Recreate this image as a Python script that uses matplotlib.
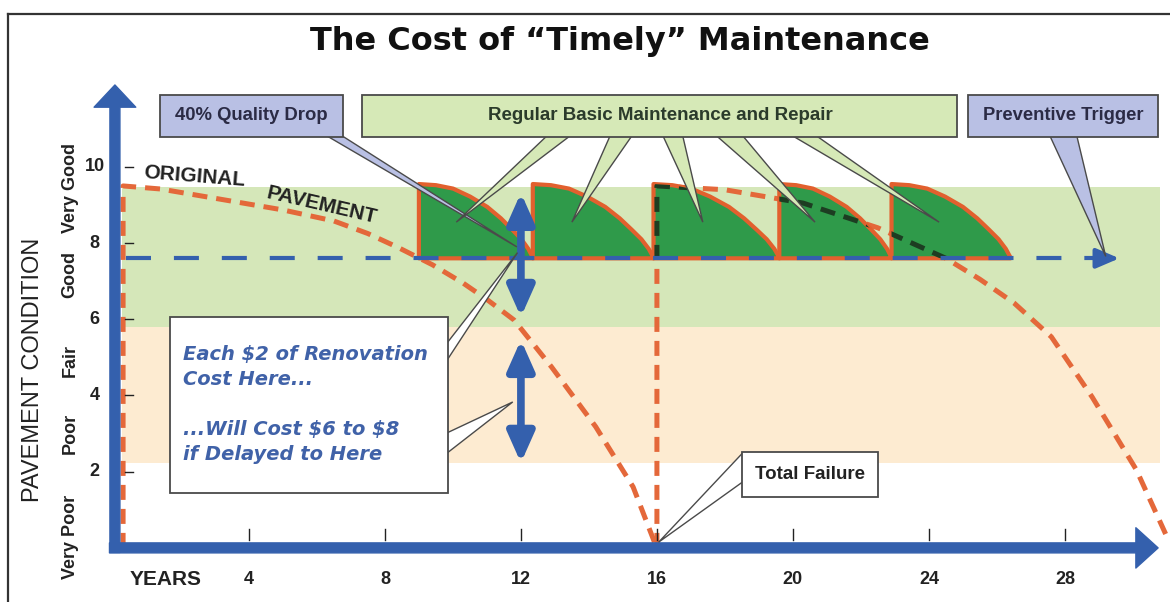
import matplotlib.pyplot as plt
from matplotlib.patches import Rectangle, Polygon
from matplotlib.lines import Line2D

# ---- data ----
tick_values = [2, 4, 6, 8, 10]
condition_labels = ['Very Poor', 'Poor', 'Fair', 'Good', 'Very Good']
condition_label_pos = [0.3, 3.0, 4.93, 7.17, 9.45]
year_ticks = [4, 8, 12, 16, 20, 24, 28]

good_band = (5.8, 9.47)
fair_band = (2.23, 5.8)
trigger_level = 7.6

# original pavement (no maintenance)
original_years = [0.3, 0.3, 1.4, 3.5, 5.0, 6.5, 7.5, 8.4, 9.4, 10.3, 11.0, 11.8, 12.9,
                  14.2, 15.3, 15.95]
original_cond = [0.0, 9.5, 9.42, 9.1, 8.87, 8.58, 8.25, 7.88, 7.43, 6.95, 6.52, 5.98, 4.75,
                 3.18, 1.6, 0.1]

# pavement after reconstruction at year 16
rebuilt_years = [16.0, 16.0, 18.0, 20.3, 22.5, 24.5, 25.5, 26.5, 27.6, 28.8, 30.1, 31.0]
rebuilt_cond = [0.0, 9.5, 9.4, 9.05, 8.4, 7.6, 7.05, 6.43, 5.54, 3.96, 2.05, 0.29]

# maintenance treatments
treat_start = [9.0, 12.35, 15.9, 19.6, 22.9]
treat_end = [12.35, 15.9, 19.6, 22.9, 26.4]
treat_frac = [0, 0.15, 0.3, 0.45, 0.6, 0.72, 0.82, 0.9, 0.96, 1.0]
treat_cond = [9.55, 9.52, 9.43, 9.22, 8.95, 8.65, 8.35, 8.1, 7.85, 7.62]
treat_pointers = [10.1, 13.5, 17.35, 20.65, 24.3]
treat_pointer_base = [(12.76, 13.44), (14.62, 15.26), (16.18, 16.76), (17.76, 18.53), (20.0, 20.7)]

blue = '#3460ad'
orange = '#e4683a'
dark_green = '#2f9a4a'
lavender = '#b9c0e4'
pale_green = '#d6e9b7'
edge = '#4a4a4a'
arial = ['Liberation Sans', 'DejaVu Sans']

fig = plt.figure(figsize=(11.7, 6.02), dpi=100)
ax = fig.add_axes([0, 0, 1, 1])
ax.set_xlim(-3.32, 31.09)
ax.set_ylim(-1.42, 14.38)
ax.axis('off')

# outer frame
fig.add_artist(Line2D([8 / 1170, 1], [1 - 14 / 602] * 2, color='#333333', lw=1.6))
fig.add_artist(Line2D([8 / 1170] * 2, [0, 1 - 14 / 602], color='#333333', lw=1.6))

# condition bands
ax.add_patch(Rectangle((0.26, good_band[0]), 30.54, good_band[1] - good_band[0],
                       color='#d5e7b9', lw=0, zorder=0))
ax.add_patch(Rectangle((0.26, fair_band[0]), 30.54, fair_band[1] - fair_band[0],
                       color='#fdebd1', lw=0, zorder=0))

# deterioration curves
ax.plot(original_years, original_cond, color=orange, lw=3.6, dashes=(3, 1.8), zorder=2)
ax.plot(rebuilt_years, rebuilt_cond, color=orange, lw=3.6, dashes=(3, 1.8), zorder=2)

# maintenance treatments
for s, e in zip(treat_start, treat_end):
    pts = [(s, trigger_level)]
    pts += [(s + f * (e - s), c) for f, c in zip(treat_frac, treat_cond)]
    pts += [(e, trigger_level)]
    shape = Polygon(pts, closed=True, facecolor=dark_green, edgecolor='#e2602e',
                    lw=3, joinstyle='round', zorder=3)
    ax.add_patch(shape)
    dark, = ax.plot(rebuilt_years, rebuilt_cond, color='#1d3d22', lw=3.6,
                    dashes=(3, 1.8), zorder=4)
    dark.set_clip_path(shape)

# preventive trigger line
ax.plot([0.4, 29.0], [trigger_level, trigger_level], color=blue, lw=3, dashes=(6, 5.5), zorder=4)
ax.annotate('', xy=(29.6, trigger_level), xytext=(28.9, trigger_level),
            arrowprops=dict(arrowstyle='-|>,head_length=0.7,head_width=0.3',
                            color=blue, lw=3, mutation_scale=20, shrinkA=0, shrinkB=0),
            zorder=4)

# axes arrows
ax.annotate('', xy=(0.06, 12.15), xytext=(0.06, -0.12),
            arrowprops=dict(arrowstyle='simple,head_length=0.8,head_width=1.5,tail_width=0.36',
                            color=blue, mutation_scale=20, shrinkA=0, shrinkB=0), zorder=5)
ax.annotate('', xy=(30.74, 0), xytext=(-0.1, 0),
            arrowprops=dict(arrowstyle='simple,head_length=0.8,head_width=1.45,tail_width=0.36',
                            color=blue, mutation_scale=20, shrinkA=0, shrinkB=0), zorder=5)

for v in tick_values:
    ax.plot([0.35, 0.59], [v, v], color='#222222', lw=1, zorder=6)
    ax.text(-0.53, v, str(v), ha='center', va='center', fontsize=13, fontweight='bold',
            family=arial, color='#222222')
for lab, pos in zip(condition_labels, condition_label_pos):
    ax.text(-1.26, pos, lab, ha='center', va='center', rotation=90, fontsize=13,
            fontweight='bold', family=arial, color='#222222')
ax.text(-2.35, 4.67, 'PAVEMENT CONDITION', ha='center', va='center', rotation=90,
        fontsize=17, color='#222222', family=arial)

for t in year_ticks:
    ax.plot([t, t], [0.2, 0.5], color='#222222', lw=1, zorder=6)
    ax.text(t, -0.84, str(t), ha='center', va='center', fontsize=13, fontweight='bold',
            family=arial, color='#222222')
ax.text(0.5, -0.84, 'YEARS', ha='left', va='center', fontsize=15, fontweight='bold',
        family=arial, color='#222222')

# repair-window double arrows
for y0, y1 in [(9.32, 6.06), (5.46, 2.23)]:
    ax.annotate('', xy=(12.0, y1), xytext=(12.0, y0),
                arrowprops=dict(arrowstyle='<|-|>,head_length=0.9,head_width=0.4',
                                color=blue, lw=5.5, mutation_scale=20, shrinkA=0, shrinkB=0),
                zorder=6)

# original pavement label
ax.text(2.4, 9.74, 'ORIGINAL', rotation=-4.5, ha='center', va='center', fontsize=15,
        fontweight='bold', color='#222222', family=arial, zorder=6)
ax.text(6.15, 8.98, 'PAVEMENT', rotation=-13, ha='center', va='center', fontsize=15,
        fontweight='bold', color='#222222', family=arial, zorder=6)

# callout boxes
box_bottom, box_top = 10.79, 11.89


def callout(x0, x1, y0, y1, fill, label, lx, ly, **kw):
    ax.add_patch(Rectangle((x0, y0), x1 - x0, y1 - y0, facecolor=fill, edgecolor=edge,
                           lw=1.3, zorder=8))
    if label:
        ax.text(lx, ly, label, ha='center', va='center', zorder=9, **kw)


def pointer(base, tip, fill):
    ax.add_patch(Polygon([base[0], base[1], tip], closed=True, facecolor=fill,
                         edgecolor=edge, lw=1, zorder=7))


callout(1.38, 6.76, box_bottom, box_top, lavender, '40% Quality Drop', 4.07, 11.34,
        fontsize=13.3, fontweight='bold', family=arial, color='#2b2b45')
pointer([(6.3, box_bottom + 0.02), (6.75, box_bottom + 0.02)], (11.88, 7.9), lavender)

callout(7.32, 24.82, box_bottom, box_top, pale_green, 'Regular Basic Maintenance and Repair',
        16.1, 11.34, fontsize=13.5, fontweight='bold', family=arial, color='#2b3b2b')
for tip_x, (b0, b1) in zip(treat_pointers, treat_pointer_base):
    pointer([(b0, box_bottom + 0.02), (b1, box_bottom + 0.02)], (tip_x, 8.55), pale_green)

callout(25.15, 30.74, box_bottom, box_top, lavender, 'Preventive Trigger', 27.95, 11.34,
        fontsize=13.2, fontweight='bold', family=arial, color='#2b2b45')
pointer([(27.56, box_bottom + 0.02), (28.35, box_bottom + 0.02)], (29.2, 7.65), lavender)

callout(1.68, 9.85, 1.44, 6.06, 'white', None, 0, 0)
pointer([(9.83, 5.38), (9.83, 4.93)], (11.9, 7.75), 'white')
pointer([(9.83, 3.02), (9.83, 2.49)], (11.76, 3.83), 'white')
for txt, yy in [('Each \\$2 of Renovation', 5.07), ('Cost Here...', 4.41),
                ('...Will Cost \\$6 to \\$8', 3.1), ('if Delayed to Here', 2.44)]:
    ax.text(2.06, yy, txt, ha='left', va='center', fontsize=14, fontweight='bold',
            fontstyle='italic', color='#4062a8', zorder=9)

callout(18.5, 22.5, 1.34, 2.52, 'white', 'Total Failure', 20.5, 1.93,
        fontsize=13.5, fontweight='bold', family=arial, color='#222222')
pointer([(18.52, 2.49), (18.52, 1.73)], (16.05, 0.15), 'white')

# title
ax.text(14.91, 13.28, 'The Cost of \u201cTimely\u201d Maintenance', ha='center', va='center',
        fontsize=23, fontweight='bold', color='#111111')

fig.savefig('out.png', dpi=100)
